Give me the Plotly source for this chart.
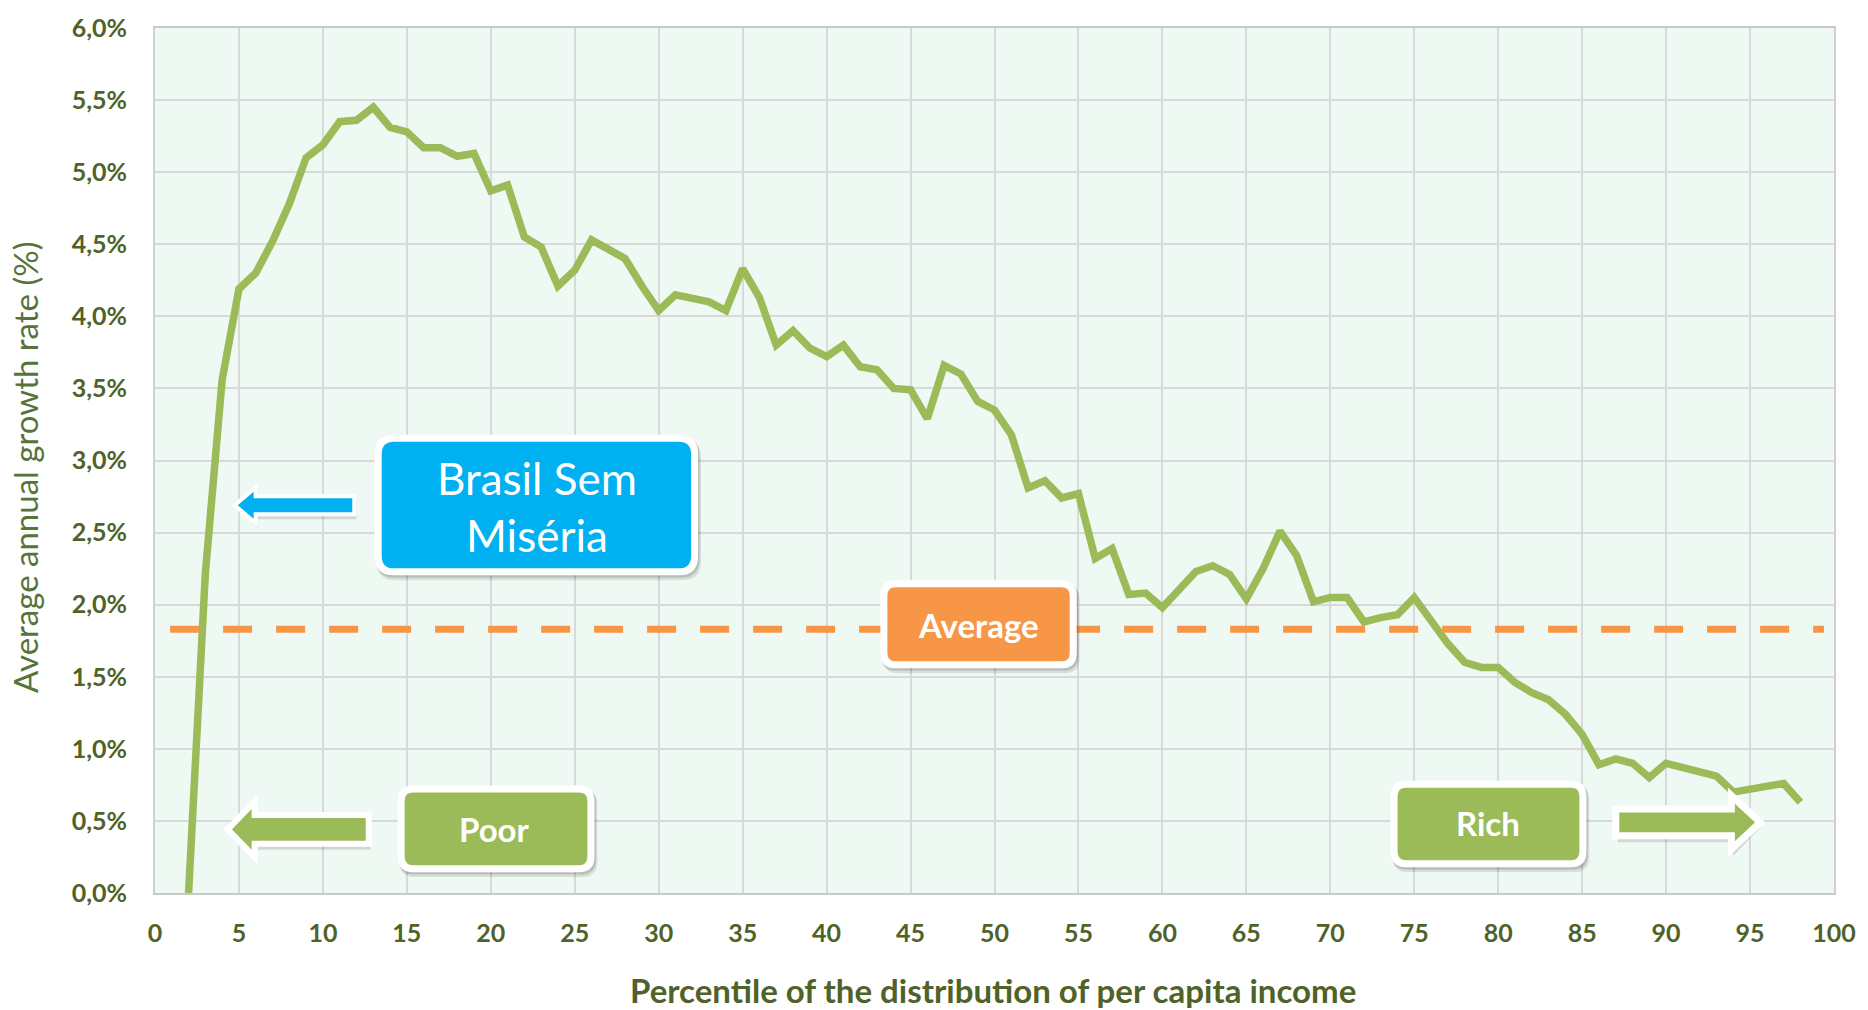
import plotly.graph_objects as go

# ---------------- data ----------------
percentiles = list(range(2, 99))
growth_rate = [
    0.00, 2.22, 3.56, 4.19, 4.30, 4.52, 4.78, 5.10, 5.19, 5.35,   # 2-11
    5.36, 5.45, 5.31, 5.28, 5.17, 5.17, 5.11, 5.13, 4.87, 4.91,   # 12-21
    4.55, 4.48, 4.21, 4.32, 4.53, 4.47, 4.40, 4.21, 4.04, 4.15,   # 22-31
    4.12, 4.10, 4.04, 4.33, 4.13, 3.80, 3.90, 3.78, 3.72, 3.80,   # 32-41
    3.65, 3.63, 3.50, 3.49, 3.29, 3.66, 3.60, 3.41, 3.35, 3.18,   # 42-51
    2.81, 2.86, 2.74, 2.77, 2.32, 2.39, 2.07, 2.08, 1.98, 2.11,   # 52-61
    2.23, 2.27, 2.21, 2.04, 2.25, 2.51, 2.34, 2.02, 2.05, 2.05,   # 62-71
    1.88, 1.91, 1.93, 2.05, 1.89, 1.73, 1.60, 1.565, 1.565, 1.46, # 72-81
    1.39, 1.34, 1.24, 1.10, 0.89, 0.93, 0.90, 0.80, 0.90, 0.87,   # 82-91
    0.85, 0.81, 0.70, 0.72, 0.73, 0.76, 0.63                      # 92-98
]
average_rate = 1.83
average_span = [0.9, 99.4]
y_ticks = [0.0, 0.5, 1.0, 1.5, 2.0, 2.5, 3.0, 3.5, 4.0, 4.5, 5.0, 5.5, 6.0]
y_tick_labels = [f"{v:.1f}".replace(".", ",") + "%" for v in y_ticks]
x_ticks = list(range(0, 101, 5))

# ---------------- styling ----------------
FIG_W, FIG_H = 1868, 1010
PL, PR, PT, PB = 155, 1840, 23, 893
TXT = "#4F6228"
GREEN = "#9BBB59"
ORANGE = "#F79646"
BLUE = "#00B0F0"
GRID = "#D9D9D9"
FONT = "Lato"


def px(x):
    return (x - PL) / (PR - PL)


def py(y):
    return (PB - y) / (PB - PT)


def path_from(points_cmds):
    out = []
    for cmd, pts in points_cmds:
        if cmd == "Z":
            out.append("Z")
            continue
        coords = " ".join(f"{px(a):.5f},{py(b):.5f}" for a, b in pts)
        out.append(f"{cmd} {coords}")
    return " ".join(out)


def rrect(x0, y0, x1, y1, r):
    return path_from([
        ("M", [(x0 + r, y0)]), ("L", [(x1 - r, y0)]), ("Q", [(x1, y0), (x1, y0 + r)]),
        ("L", [(x1, y1 - r)]), ("Q", [(x1, y1), (x1 - r, y1)]),
        ("L", [(x0 + r, y1)]), ("Q", [(x0, y1), (x0, y1 - r)]),
        ("L", [(x0, y0 + r)]), ("Q", [(x0, y0), (x0 + r, y0)]), ("Z", None)])


def arrow(tip, cy, head_base, hh, bh, end, dx=0, dy=0):
    pts = [(tip, cy), (head_base, cy - hh), (head_base, cy - bh), (end, cy - bh),
           (end, cy + bh), (head_base, cy + bh), (head_base, cy + hh)]
    pts = [(a + dx, b + dy) for a, b in pts]
    return path_from([("M", [pts[0]])] + [("L", [p]) for p in pts[1:]] + [("Z", None)])


shapes = []


def add_box(x0, y0, x1, y1, r, fill, lw=7):
    e = lw / 2
    shapes.append(dict(type="path", xref="paper", yref="paper", layer="above",
                       path=rrect(x0 - e + 2, y0 - e + 4, x1 + e + 3, y1 + e + 5, r + e),
                       fillcolor="rgba(0,0,0,0.10)", line=dict(width=0)))
    shapes.append(dict(type="path", xref="paper", yref="paper", layer="above",
                       path=rrect(x0 - e + 1, y0 - e + 2, x1 + e + 1.5, y1 + e + 2.5, r + e),
                       fillcolor="rgba(0,0,0,0.14)", line=dict(width=0)))
    shapes.append(dict(type="path", xref="paper", yref="paper", layer="above",
                       path=rrect(x0, y0, x1, y1, r),
                       fillcolor=fill, line=dict(color="white", width=lw)))


def add_arrow(tip, cy, head_base, hh, bh, end, fill, lw):
    shapes.append(dict(type="path", xref="paper", yref="paper", layer="above",
                       path=arrow(tip, cy, head_base, hh + lw / 2, bh + lw / 2, end, 2, 3),
                       fillcolor="rgba(0,0,0,0.13)", line=dict(width=0)))
    shapes.append(dict(type="path", xref="paper", yref="paper", layer="above",
                       path=arrow(tip, cy, head_base, hh, bh, end),
                       fillcolor=fill, line=dict(color="white", width=lw)))


# boxes
add_box(379, 435.5, 696.5, 570, 16, BLUE)
add_box(886.5, 582, 1076.5, 663.5, 12, ORANGE)
add_box(402, 788.5, 592.5, 868.5, 12, GREEN)
add_box(1398.5, 783.5, 1588, 863.5, 12, GREEN)

# arrows
add_arrow(235, 503, 256, 18, 9, 355, BLUE, 4)
add_arrow(228, 829, 255, 28, 14.5, 369.5, GREEN, 6)
add_arrow(1766, 822, 1737, 27, 13.5, 1621, GREEN, 7)

annotations = [
    dict(text="Brasil Sem<br>Miséria", x=px(538), y=py(504), xref="paper", yref="paper",
         showarrow=False, xanchor="center", yanchor="middle",
         font=dict(family=FONT, size=44, color="white")),
    dict(text="<b>Average</b>", x=px(981.5), y=py(623), xref="paper", yref="paper",
         showarrow=False, xanchor="center", yanchor="middle",
         font=dict(family=FONT, size=33, color="white")),
    dict(text="<b>Poor</b>", x=px(496), y=py(829), xref="paper", yref="paper",
         showarrow=False, xanchor="center", yanchor="middle",
         font=dict(family=FONT, size=33, color="white")),
    dict(text="<b>Rich</b>", x=px(1493), y=py(823), xref="paper", yref="paper",
         showarrow=False, xanchor="center", yanchor="middle",
         font=dict(family=FONT, size=33, color="white")),
    dict(text="Average annual growth rate (%)", x=px(25), y=py(465), xref="paper", yref="paper",
         showarrow=False, xanchor="center", yanchor="middle", textangle=-90,
         font=dict(family=FONT, size=33, color="#56743A")),
    dict(text="<b>Percentile of the distribution of per capita income</b>", x=px(996), y=py(991),
         xref="paper", yref="paper", showarrow=False, xanchor="center", yanchor="middle",
         font=dict(family=FONT, size=33, color=TXT)),
]

fig = go.Figure()
fig.add_trace(go.Scatter(x=percentiles, y=growth_rate, mode="lines",
                         line=dict(color=GREEN, width=7.5), hoverinfo="skip", showlegend=False))
fig.add_trace(go.Scatter(x=average_span, y=[average_rate, average_rate], mode="lines",
                         line=dict(color=ORANGE, width=7, dash="29px,24px"),
                         hoverinfo="skip", showlegend=False))

fig.update_layout(
    width=FIG_W, height=FIG_H, autosize=False,
    margin=dict(l=PL, r=FIG_W - PR, t=PT, b=FIG_H - PB, pad=0),
    paper_bgcolor="white", plot_bgcolor="#EFF9F3",
    shapes=shapes, annotations=annotations,
    xaxis=dict(range=[0, 100], tickmode="array", tickvals=x_ticks, showgrid=True,
               gridcolor=GRID, gridwidth=2,
               zeroline=False, showline=True, linecolor="#C9C9C9", linewidth=2, mirror=True,
               ticks="", ticklabelstandoff=17,
               tickfont=dict(family=FONT, size=25, color=TXT, weight="bold")),
    yaxis=dict(range=[0, 6], tickmode="array", tickvals=y_ticks, ticktext=y_tick_labels,
               showgrid=True, gridcolor=GRID, gridwidth=2,
               zeroline=False, showline=True, linecolor="#D0D0D0", linewidth=2, mirror=True,
               ticks="", ticklabelstandoff=21,
               tickfont=dict(family=FONT, size=25, color=TXT, weight="bold")),
)

fig.write_html("out.html", config={"displayModeBar": False},
               post_script="document.body.style.margin='0px';document.body.style.overflow='hidden';")
